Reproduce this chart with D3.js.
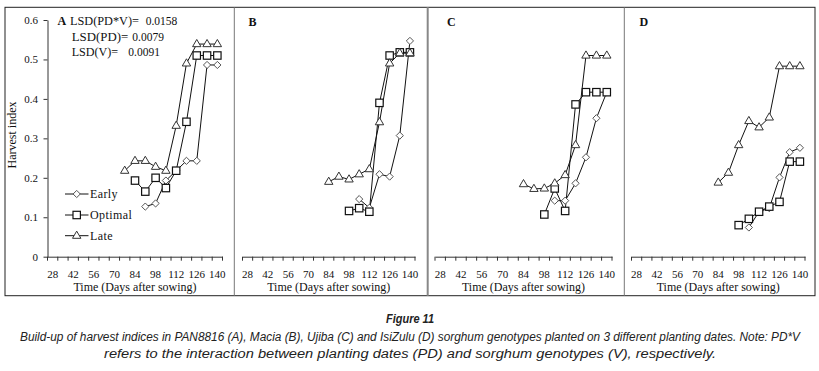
<!DOCTYPE html>
<html><head><meta charset="utf-8">
<script src="https://cdn.jsdelivr.net/npm/d3@7/dist/d3.min.js"></script>
<style>body{margin:0;background:#fff}svg{display:block}</style>
</head><body>
<script>
// ---- data ----
const categories = [28,35,42,49,56,63,70,77,84,91,98,105,112,119,126,133,140];
const xTickLabels = [28,42,56,70,84,98,112,126,140];
const yTicks = [0,0.1,0.2,0.3,0.4,0.5,0.6];
const seriesNames = ["Early","Optimal","Late"];

const daysEarlyA = [91,98,105,112,119,126,133,140];
const earlyA = [0.127,0.135,0.193,0.218,0.243,0.243,0.486,0.486];
const daysOptimalA = [84,91,98,105,112,119,126,133,140];
const optimalA = [0.193,0.165,0.200,0.174,0.218,0.342,0.510,0.510,0.510];
const daysLateA = [77,84,91,98,105,112,119,126,133,140];
const lateA = [0.218,0.243,0.243,0.228,0.218,0.332,0.490,0.539,0.539,0.539];

const daysEarly = [105,112,119,126,133,140];
const daysOptimal = [98,105,112,119,126,133,140];
const daysLate = [84,91,98,105,112,119,126,133,140];

const earlyB = [0.146,0.124,0.209,0.203,0.307,0.547];
const optimalB = [0.116,0.123,0.114,0.390,0.510,0.518,0.518];
const lateB = [0.190,0.203,0.196,0.209,0.222,0.341,0.490,0.516,0.516];

const earlyC = [0.142,0.142,0.186,0.252,0.351,0.417];
const optimalC = [0.107,0.173,0.116,0.386,0.417,0.417,0.417];
const lateC = [0.184,0.172,0.173,0.186,0.207,0.283,0.510,0.510,0.510];

const earlyD = [0.074,0.114,0.123,0.201,0.265,0.276];
const optimalD = [0.080,0.096,0.114,0.127,0.139,0.241,0.241];
const lateD = [0.188,0.213,0.283,0.344,0.328,0.353,0.483,0.483,0.483];

const lsdLabels = ["LSD(PD*V)=","LSD(PD)=","LSD(V)="];
const lsdValues = ["0.0158","0.0079","0.0091"];

// ---- layout ----
const W = 819, H = 371;
const serif = "'Liberation Serif','Times New Roman',serif";
const svg = d3.select("body").append("svg").attr("width",W).attr("height",H);
svg.append("rect").attr("width",W).attr("height",H).attr("fill","#fff");

const y = d3.scaleLinear().domain([0,0.6]).range([256.7,20]);

const zip = (ds,vs) => ds.map((d,i)=>({day:d,v:vs[i]}));
const panels = [
  {letter:"A", range:[47.5,222.5], yAxis:true,
   series:[zip(daysEarlyA,earlyA),zip(daysOptimalA,optimalA),zip(daysLateA,lateA)]},
  {letter:"B", range:[242.5,415], series:[zip(daysEarly,earlyB),zip(daysOptimal,optimalB),zip(daysLate,lateB)]},
  {letter:"C", range:[435,612], series:[zip(daysEarly,earlyC),zip(daysOptimal,optimalC),zip(daysLate,lateC)]},
  {letter:"D", range:[631.5,805], series:[zip(daysEarly,earlyD),zip(daysOptimal,optimalD),zip(daysLate,lateD)]}
];

// frame
svg.append("rect").attr("x",5).attr("y",7.3).attr("width",810).attr("height",288.4)
  .attr("fill","none").attr("stroke","#222").attr("stroke-width",1);
[[234.3,1,"#777"],[427.7,2,"#888"],[624.3,1,"#777"]].forEach(([x,w,c])=>{
  svg.append("line").attr("x1",x).attr("x2",x).attr("y1",7.3).attr("y2",295.7)
    .attr("stroke",c).attr("stroke-width",w);
});

function marker(g, type, cx, cy){
  if(type===0){ // diamond
    g.append("path").attr("d",`M${cx},${cy-3.6}L${cx+3.6},${cy}L${cx},${cy+3.6}L${cx-3.6},${cy}Z`)
      .attr("fill","#fff").attr("stroke","#555").attr("stroke-width",1);
  } else if(type===1){ // square
    g.append("rect").attr("x",cx-3.7).attr("y",cy-3.7).attr("width",7.4).attr("height",7.4)
      .attr("fill","#fff").attr("stroke","#111").attr("stroke-width",1.2);
  } else { // triangle
    g.append("path").attr("d",`M${cx},${cy-4.6}L${cx+4.2},${cy+2.6}L${cx-4.2},${cy+2.6}Z`)
      .attr("fill","#fff").attr("stroke","#333").attr("stroke-width",1);
  }
}

panels.forEach(p=>{
  const g = svg.append("g");
  const x = d3.scaleBand().domain(categories).range(p.range).padding(0);
  const cxOf = d => x(d) + x.bandwidth()/2;

  // x axis
  const ax = g.append("g").attr("transform",`translate(0,${y(0)})`)
    .call(d3.axisBottom(x).tickValues(xTickLabels).tickSize(0).tickSizeOuter(0).tickPadding(13.5));
  ax.select(".domain").attr("stroke","#333");
  ax.selectAll("text").attr("font-family",serif).attr("font-size",11).attr("fill","#111");
  categories.concat([null]).forEach((c,i)=>{
    const xx = p.range[0] + i*x.step();
    g.append("line").attr("x1",xx).attr("x2",xx).attr("y1",y(0)).attr("y2",y(0)+4).attr("stroke","#333");
  });
  g.append("text").attr("x",(p.range[0]+p.range[1])/2).attr("y",290.5).attr("text-anchor","middle")
    .attr("font-family",serif).attr("font-size",12).attr("fill","#111").text("Time (Days after sowing)");

  if(p.yAxis){
    const ay = g.append("g").attr("transform",`translate(${p.range[0]},0)`)
      .call(d3.axisLeft(y).tickValues(yTicks).tickSize(4).tickSizeOuter(0).tickPadding(5.5)
        .tickFormat(d=> d===0 ? "0" : d3.format(".1f")(d)));
    ay.select(".domain").attr("stroke","#333");
    ay.selectAll("line").attr("stroke","#333");
    ay.selectAll("text").attr("font-family",serif).attr("font-size",11).attr("fill","#111");
  }

  // lines
  const line = d3.line().x(d=>cxOf(d.day)).y(d=>y(d.v));
  p.series.forEach((s,si)=>{
    g.append("path").datum(s).attr("d",line).attr("fill","none").attr("stroke","#111").attr("stroke-width",1);
  });
  p.series.forEach((s,si)=>{
    s.forEach(d=>marker(g, si, cxOf(d.day), y(d.v)));
  });

  // panel letter
  if(p.letter!=="A"){
    g.append("text").attr("x",p.range[0]+ (p.letter==="B"?6:p.letter==="C"?12:8)).attr("y",26)
      .attr("font-family",serif).attr("font-size",12).attr("font-weight","bold").attr("fill","#111").text(p.letter);
  }
});

// LSD annotation in A
const lsd = svg.append("g").attr("font-family",serif).attr("font-size",11).attr("fill","#111");
lsd.append("text").attr("x",57.5).attr("y",24.5).attr("font-weight","bold").attr("font-size",12).text("A");
const lsdX = [70,71.7,71.7], lsdW = [69,56.5,46.5];
const lsdVX = [145.7,132.3,128.3], lsdY = [24.5,40.5,56];
lsdLabels.forEach((t,i)=>{
  lsd.append("text").attr("x",lsdX[i]).attr("y",lsdY[i]).attr("font-size",12)
    .attr("textLength",lsdW[i]).attr("lengthAdjust","spacingAndGlyphs").text(t);
  lsd.append("text").attr("x",lsdVX[i]).attr("y",lsdY[i]).attr("font-size",11.5).text(lsdValues[i]);
});

// legend
const legY = [194,215,235.7];
seriesNames.forEach((n,i)=>{
  svg.append("line").attr("x1",65).attr("x2",88.5).attr("y1",legY[i]).attr("y2",legY[i]).attr("stroke","#111");
  marker(svg, i, 76.7, legY[i]);
  svg.append("text").attr("x",90).attr("y",legY[i]+4.2).attr("font-family",serif).attr("font-size",12)
    .attr("fill","#111").attr("letter-spacing",0.4).text(n);
});

// caption
const capFont = "'Liberation Sans','Open Sans',sans-serif";
svg.append("text").attr("x",410).attr("y",322.5).attr("text-anchor","middle").attr("font-family",capFont)
  .attr("font-size",13).attr("font-style","italic").attr("font-weight","bold").attr("fill","#222")
  .attr("textLength",48).attr("lengthAdjust","spacingAndGlyphs").text("Figure 11");
svg.append("text").attr("x",20).attr("y",340.5).attr("font-family",capFont).attr("font-size",12)
  .attr("font-style","italic").attr("font-weight","normal").attr("fill","#222").attr("textLength",780).attr("lengthAdjust","spacingAndGlyphs")
  .text("Build-up of harvest indices in PAN8816 (A), Macia (B), Ujiba (C) and IsiZulu (D) sorghum genotypes planted on 3 different planting dates. Note: PD*V");
svg.append("text").attr("x",104).attr("y",357.5).attr("font-family",capFont).attr("font-size",12)
  .attr("font-style","italic").attr("font-weight","normal").attr("fill","#222").attr("textLength",612).attr("lengthAdjust","spacingAndGlyphs")
  .text("refers to the interaction between planting dates (PD) and sorghum genotypes (V), respectively.");

// y title
svg.append("text").attr("transform","translate(15.5,135) rotate(-90)").attr("text-anchor","middle")
  .attr("font-family",serif).attr("font-size",12).attr("fill","#111").text("Harvest index");
</script>
</body></html>
